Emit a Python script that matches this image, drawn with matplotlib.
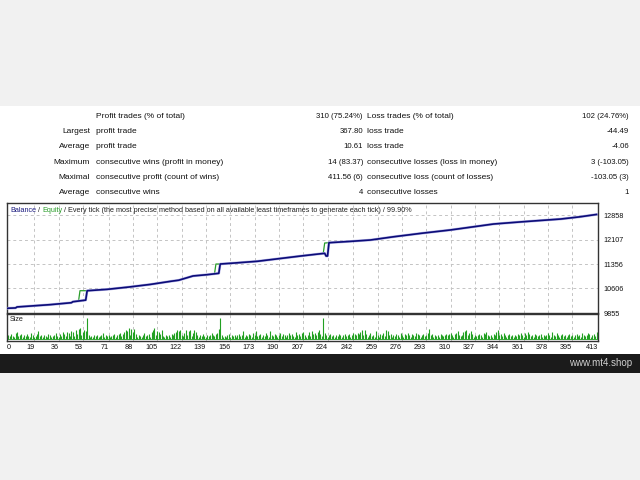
import matplotlib.pyplot as plt
from matplotlib.patches import Rectangle

# stats table rows: (prefix, label, value, loss label, loss value)
row_prefix = ["", "Largest", "Average", "Maximum", "Maximal", "Average"]
row_win_label = ["Profit trades (% of total)", "profit trade", "profit trade",
                 "consecutive wins (profit in money)",
                 "consecutive profit (count of wins)", "consecutive wins"]
row_win_value = ["310 (75.24%)", "367.80", "10.61", "14 (83.37)", "411.56 (6)", "4"]
row_loss_label = ["Loss trades (% of total)", "loss trade", "loss trade",
                  "consecutive losses (loss in money)",
                  "consecutive loss (count of losses)", "consecutive losses"]
row_loss_value = ["102 (24.76%)", "-44.49", "-4.06", "3 (-103.05)", "-103.05 (3)", "1"]

# balance curve (trade number, account value)
balance_x = [0, 6, 7, 30, 45, 46, 55, 56, 70, 85, 100, 115, 120, 130, 140, 148,
             149, 160, 175, 190, 205, 215, 222, 223, 224, 225, 240, 254, 270,
             290, 310, 340, 360, 387, 400, 412]
balance_y = [10000, 10010, 10040, 10110, 10170, 10200, 10250, 10538, 10580, 10650,
             10730, 10830, 10860, 10990, 11030, 11071, 11356, 11390, 11440, 11520,
             11600, 11650, 11684, 11601, 11601, 12009, 12050, 12092, 12190, 12300,
             12400, 12582, 12650, 12735, 12800, 12875]
# equity only shows where it leads the balance (open profit before close)
equity_segments = [
    ([50, 51, 56], [10222, 10538, 10538]),
    ([145, 146, 149], [11056, 11356, 11356]),
    ([221, 222, 225], [11679, 12000, 12009]),
]

y_ticks = [9855, 10606, 11356, 12107, 12858]
x_ticks = [0, 19, 36, 53, 71, 88, 105, 122, 139, 156, 173, 190, 207, 224, 242,
           259, 276, 293, 310, 327, 344, 361, 378, 395, 413]

# lot size per trade (relative)
sizes = [
    2, 4, 3, 5, 3, 2, 6, 7, 3, 4, 5, 2, 4, 3, 5, 3, 2, 6, 4, 2,
    3, 5, 8, 3, 4, 2, 4, 3, 2, 5, 4, 2, 3, 4, 6, 3, 2, 5, 3, 7,
    5, 3, 7, 6, 3, 8, 7, 3, 9, 5, 10, 11, 4, 7, 9, 8, 21, 4, 2, 3,
    2, 4, 3, 4, 2, 3, 4, 6, 2, 4, 3, 4, 2, 3, 4, 5, 2, 4, 5, 6,
    3, 5, 7, 9, 8, 11, 4, 10, 7, 10, 5, 2, 4, 3, 2, 4, 6, 3, 4, 5,
    2, 7, 9, 11, 4, 8, 7, 5, 9, 3, 2, 4, 3, 4, 2, 5, 4, 6, 7, 9,
    8, 9, 4, 3, 6, 9, 4, 8, 9, 3, 6, 9, 7, 4, 2, 4, 3, 5, 3, 2,
    4, 3, 4, 6, 4, 3, 5, 6, 10, 21, 4, 2, 3, 2, 4, 5, 2, 4, 3, 4,
    2, 4, 5, 3, 4, 8, 2, 4, 3, 5, 4, 2, 6, 4, 8, 3, 4, 5, 2, 4,
    3, 6, 4, 2, 8, 4, 3, 5, 4, 2, 4, 6, 3, 5, 4, 2, 4, 6, 4, 5,
    3, 2, 7, 4, 5, 3, 6, 7, 4, 2, 4, 7, 3, 8, 5, 6, 4, 7, 9, 5,
    3, 21, 6, 4, 2, 4, 5, 3, 4, 2, 4, 3, 5, 4, 2, 4, 5, 3, 4, 5,
    2, 4, 6, 5, 4, 6, 5, 7, 9, 4, 9, 5, 2, 4, 6, 3, 4, 2, 8, 4,
    2, 5, 4, 6, 3, 9, 8, 4, 5, 2, 4, 3, 5, 4, 2, 6, 4, 2, 5, 4,
    6, 4, 2, 5, 4, 3, 6, 5, 4, 2, 4, 5, 3, 4, 6, 10, 4, 5, 2, 4,
    3, 4, 2, 5, 4, 3, 4, 5, 4, 5, 6, 4, 2, 5, 6, 8, 4, 3, 4, 7,
    8, 9, 4, 6, 8, 5, 2, 4, 3, 4, 5, 4, 2, 6, 5, 7, 4, 3, 4, 2,
    5, 4, 7, 9, 4, 5, 3, 6, 4, 2, 4, 5, 3, 4, 2, 4, 3, 5, 4, 6,
    4, 2, 6, 4, 7, 5, 3, 4, 2, 5, 4, 3, 4, 5, 2, 4, 3, 4, 6, 4,
    2, 7, 4, 3, 6, 4, 2, 4, 5, 3, 4, 2, 4, 5, 3, 4, 2, 4, 5, 3,
    4, 2, 6, 4, 3, 4, 6, 5, 2, 4, 5, 3, 7,
]

plt.rcParams['font.family'] = ['Liberation Sans', 'DejaVu Sans']
fs = 6
fs_small = 5.2

fig = plt.figure(figsize=(6.4, 4.8), dpi=100, facecolor='#f1f1f1')
W, H = 640.0, 480.0

def fy(py):
    return 1 - py / H

# white report area and dark footer band
fig.patches.append(Rectangle((0, fy(354)), 1, fy(106) - fy(354), transform=fig.transFigure,
                             facecolor='white', edgecolor='none', zorder=-10))
fig.patches.append(Rectangle((0, fy(373)), 1, fy(354) - fy(373), transform=fig.transFigure,
                             facecolor='#1b1b1b', edgecolor='none', zorder=-10))
fig.text(632 / W, fy(363), "www.mt4.shop", ha='right', va='center', fontsize=7,
         color='#d0d0d0')

# stats table
row_y = [116, 131.5, 147, 162, 177.5, 192.5]
for i in range(len(row_y)):
    y = fy(row_y[i])
    fig.text(90 / W, y, row_prefix[i], ha='right', va='center', fontsize=fs, color='#111')
    fig.text(96 / W, y, row_win_label[i], ha='left', va='center', fontsize=fs, color='#111')
    fig.text(363 / W, y, row_win_value[i], ha='right', va='center', fontsize=5.6, color='#111')
    fig.text(367 / W, y, row_loss_label[i], ha='left', va='center', fontsize=fs, color='#111')
    fig.text(629 / W, y, row_loss_value[i], ha='right', va='center', fontsize=5.6, color='#111')

# main balance chart
left, right = 7, 598
ax = fig.add_axes([left / W, fy(313), (right - left) / W, (313 - 203) / H])
for ex, ey in equity_segments:
    ax.plot(ex, ey, color='#2a9d2a', lw=0.9, zorder=3)
ax.plot(balance_x, balance_y, color='#b4b4e6', lw=1.9, zorder=3.5)
ax.plot(balance_x, balance_y, color='#0c0c78', lw=1.2, zorder=4)
ax.set_xlim(0, 412)
ax.set_ylim(9855, 13226)
ax.set_yticks(y_ticks)
ax.set_xticks(x_ticks)
ax.yaxis.tick_right()
ax.tick_params(axis='y', length=0, pad=4, labelsize=fs_small, labelcolor='#111')
ax.tick_params(axis='x', length=0, labelbottom=False)
ax.grid(True, ls=(0, (3, 3)), color='#c4c4c4', lw=0.7)
for s in ax.spines.values():
    s.set_color('#333')
    s.set_linewidth(1)

t1 = ax.text(0.005, 0.93, "Balance", transform=ax.transAxes, fontsize=fs_small,
             color='#1c1c80', va='center', ha='left')
t2 = ax.annotate(" / ", xy=(1, 0), xycoords=t1, va='bottom', fontsize=fs_small, color='#222')
t3 = ax.annotate("Equity", xy=(1, 0), xycoords=t2, va='bottom', fontsize=fs_small,
                 color='#2a9d2a')
ax.annotate(" / Every tick (the most precise method based on all available least "
            "timeframes to generate each tick) / 99.90%", xy=(1, 0), xycoords=t3,
            va='bottom', fontsize=fs_small, color='#222')

# size panel
ax2 = fig.add_axes([left / W, fy(341), (right - left) / W, (341 - 314) / H])
ax2.vlines(range(len(sizes)), 0, sizes, color='#22a022', lw=0.8)
ax2.axhline(0, color='#22a022', lw=0.6)
ax2.set_xlim(0, 412)
ax2.set_ylim(-2, 25)
ax2.set_yticks([])
ax2.set_xticks(x_ticks)
ax2.set_xticklabels([str(v) for v in x_ticks])
ax2.tick_params(axis='x', length=0, pad=2, labelsize=fs_small, labelcolor='#111')
ax2.grid(True, axis='x', ls=(0, (3, 3)), color='#c4c4c4', lw=0.7)
for lab in ax2.get_xticklabels()[1:]:
    lab.set_ha('right')
ax2.get_xticklabels()[0].set_ha('left')
for s in ax2.spines.values():
    s.set_color('#333')
    s.set_linewidth(1)
ax2.text(0.005, 0.78, "Size", transform=ax2.transAxes, fontsize=fs_small, color='#222',
         va='center', ha='left')

fig.savefig('out.png', dpi=100, facecolor=fig.get_facecolor())
